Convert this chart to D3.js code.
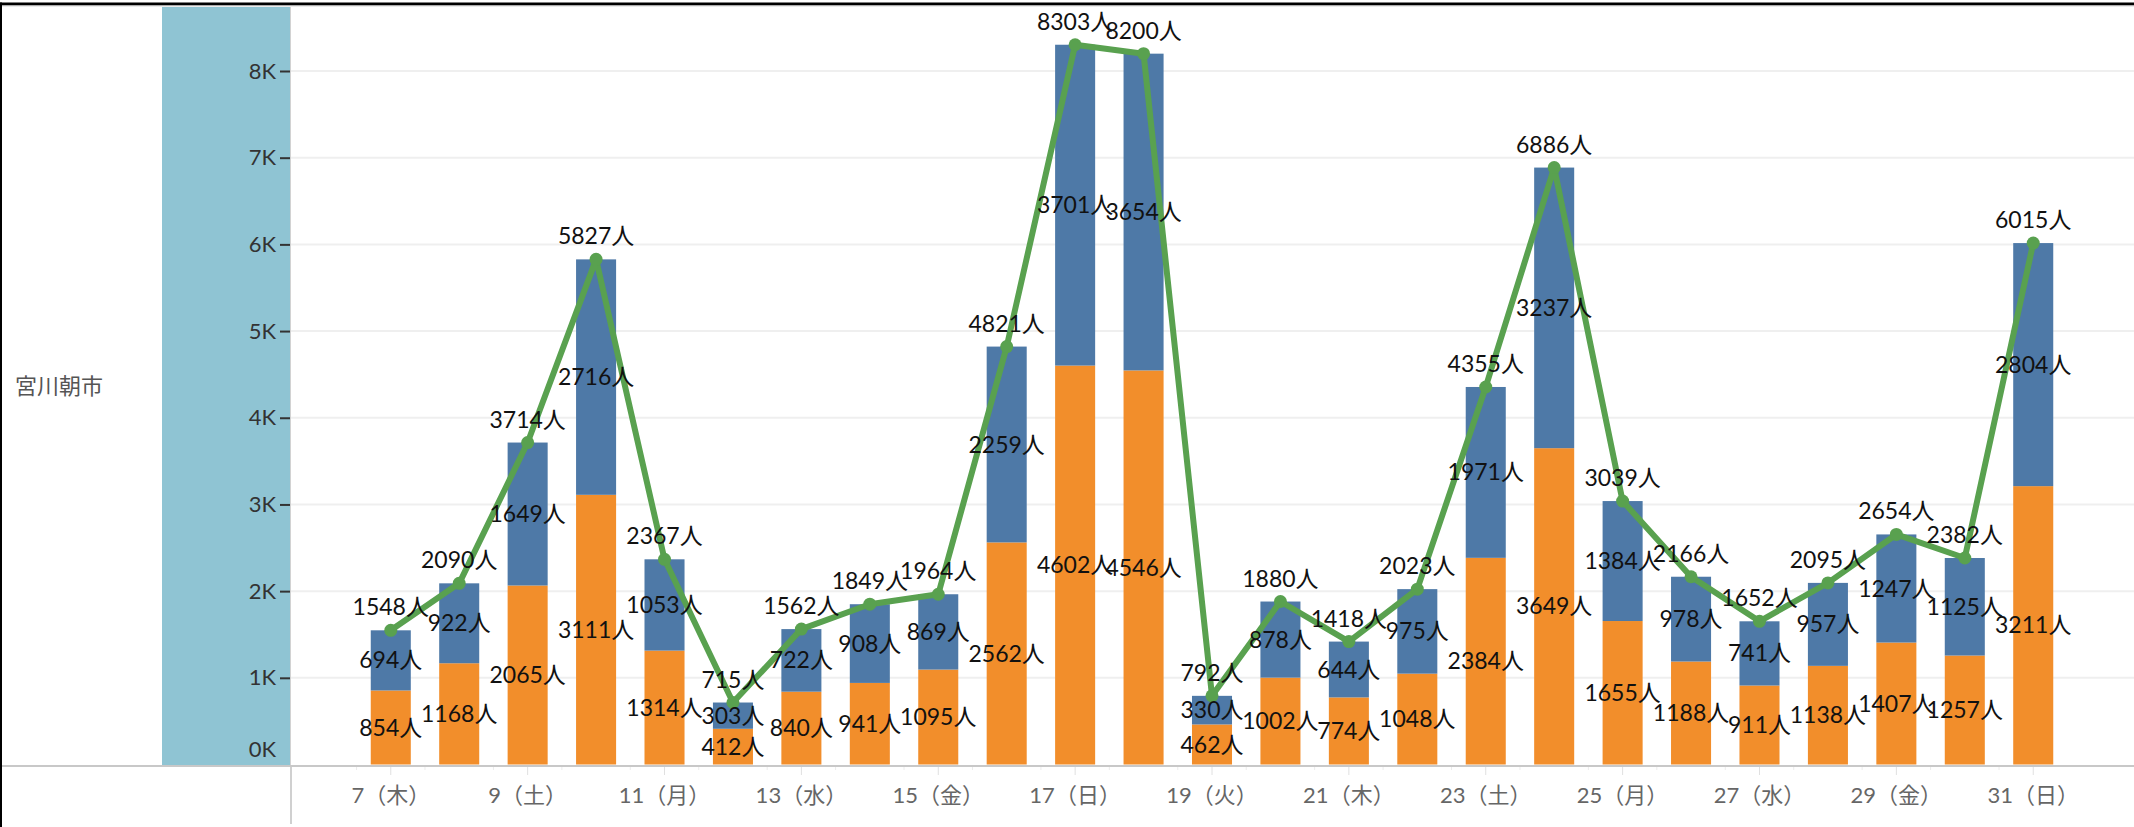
<!DOCTYPE html>
<html lang="ja"><head>
  <meta charset="utf-8">
  <title>宮川朝市</title>
  <script type="text/javascript" src="https://cdn.jsdelivr.net/npm/d3@7"></script>
  <style>
   body { margin: 0; background: white; }
   text { font-family: Lato, "Noto Sans CJK JP", sans-serif; }
  </style>
</head>
<body>
  <script type="text/javascript">
   var days = [7, 8, 9, 10, 11, 12, 13, 14, 15, 16, 17, 18, 19, 20, 21, 22, 23, 24, 25, 26, 27, 28, 29, 30, 31];
   var weekdays = ["木", "金", "土", "日", "月", "火", "水", "木", "金", "土", "日", "月", "火",
                   "水", "木", "金", "土", "日", "月", "火", "水", "木", "金", "土", "日"];
   var orangeVals = [854, 1168, 2065, 3111, 1314, 412, 840, 941, 1095, 2562, 4602, 4546, 462,
                     1002, 774, 1048, 2384, 3649, 1655, 1188, 911, 1138, 1407, 1257, 3211];
   var blueVals = [694, 922, 1649, 2716, 1053, 303, 722, 908, 869, 2259, 3701, 3654, 330,
                   878, 644, 975, 1971, 3237, 1384, 978, 741, 957, 1247, 1125, 2804];
   var totals = [1548, 2090, 3714, 5827, 2367, 715, 1562, 1849, 1964, 4821, 8303, 8200, 792,
                 1880, 1418, 2023, 4355, 6886, 3039, 2166, 1652, 2095, 2654, 2382, 6015];
   var yTicks = [0, 1000, 2000, 3000, 4000, 5000, 6000, 7000, 8000];
   var rowLabel = "宮川朝市";

   var width = 2134;
   var height = 827;
   var paneLeft = 290;
   var paneTop = 7;
   var baseY = 765;

   var orange = "#f28e2b";
   var blue = "#4e79a7";
   var green = "#59a14f";

   var x = d3.scaleBand().domain(days).range([paneLeft, width])
             .paddingInner(0.415).paddingOuter(1.18);
   var y = d3.scaleLinear().domain([0, 8000]).range([764.5, 71]);

   var rows = days.map(function(d, i) {
     return {day: d, wd: weekdays[i], a: orangeVals[i], b: blueVals[i], total: totals[i]};
   });

   var svg = d3.select("body").append("svg")
               .attr("width", width)
               .attr("height", height);

   // row header band
   svg.append("rect")
      .attr("x", 162).attr("y", paneTop)
      .attr("width", paneLeft - 162).attr("height", baseY - paneTop)
      .attr("fill", "#8fc4d3");

   svg.append("text")
      .attr("x", 15).attr("y", (paneTop + baseY) / 2)
      .attr("dy", "0.35em")
      .attr("font-size", 22)
      .attr("fill", "#555")
      .text(rowLabel);

   // gridlines
   svg.append("g")
      .selectAll("line")
      .data(yTicks.slice(1))
      .enter()
      .append("line")
      .attr("x1", paneLeft).attr("x2", width)
      .attr("y1", function(d) { return y(d); })
      .attr("y2", function(d) { return y(d); })
      .attr("stroke", "#efefef")
      .attr("stroke-width", 2);

   svg.append("line")
      .attr("x1", paneLeft + 0.5).attr("x2", paneLeft + 0.5)
      .attr("y1", paneTop).attr("y2", baseY)
      .attr("stroke", "#d2d2d2");

   // stacked bars
   var bars = svg.append("g");
   bars.selectAll(".a")
       .data(rows)
       .enter()
       .append("rect")
       .attr("class", "a")
       .attr("x", function(d) { return x(d.day); })
       .attr("width", x.bandwidth())
       .attr("y", function(d) { return y(d.a); })
       .attr("height", function(d) { return y(0) - y(d.a); })
       .attr("fill", orange);

   bars.selectAll(".b")
       .data(rows)
       .enter()
       .append("rect")
       .attr("class", "b")
       .attr("x", function(d) { return x(d.day); })
       .attr("width", x.bandwidth())
       .attr("y", function(d) { return y(d.a + d.b); })
       .attr("height", function(d) { return y(d.a) - y(d.a + d.b); })
       .attr("fill", blue);

   var cx = function(d) { return x(d.day) + x.bandwidth() / 2; };

   // total line
   var line = d3.line()
                .x(cx)
                .y(function(d) { return y(d.total); });

   svg.append("path")
      .datum(rows)
      .attr("d", line)
      .attr("fill", "none")
      .attr("stroke", green)
      .attr("stroke-width", 6)
      .attr("stroke-linejoin", "round");

   svg.append("g")
      .selectAll("circle")
      .data(rows)
      .enter()
      .append("circle")
      .attr("cx", cx)
      .attr("cy", function(d) { return y(d.total); })
      .attr("r", 6.5)
      .attr("fill", green);

   // mark labels
   var labels = svg.append("g")
                   .attr("font-size", 23)
                   .attr("fill", "#111")
                   .attr("text-anchor", "middle");

   labels.selectAll(".la")
         .data(rows)
         .enter()
         .append("text")
         .attr("x", cx)
         .attr("y", function(d) { return y(d.a / 2); })
         .attr("dy", "0.35em")
         .text(function(d) { return d.a + "人"; });

   labels.selectAll(".lb")
         .data(rows)
         .enter()
         .append("text")
         .attr("x", cx)
         .attr("y", function(d) { return y(d.a + d.b / 2); })
         .attr("dy", "0.35em")
         .text(function(d) { return d.b + "人"; });

   labels.selectAll(".lt")
         .data(rows)
         .enter()
         .append("text")
         .attr("x", cx)
         .attr("y", function(d) { return y(d.total) - 23; })
         .attr("dy", "0.35em")
         .text(function(d) { return d.total + "人"; });

   // value axis
   var yAxis = d3.axisLeft(y)
                 .tickValues(yTicks)
                 .tickSize(10)
                 .tickPadding(4)
                 .tickFormat(function(d) { return (d / 1000) + "K"; });

   var ya = svg.append("g")
               .attr("transform", "translate(" + paneLeft + ",0)")
               .call(yAxis);
   ya.select(".domain").remove();
   ya.selectAll("line")
     .attr("stroke", "#333")
     .attr("stroke-width", 2)
     .attr("opacity", function(d) { return d == 0 ? 0 : 1; });
   ya.selectAll("text")
     .attr("font-family", null)
     .attr("font-size", 22)
     .attr("fill", "#333")
     .attr("y", function(d) { return d == 0 ? -15 : 0; });

   // date axis
   svg.append("g")
      .selectAll("line")
      .data(days)
      .enter()
      .append("line")
      .attr("x1", function(d) { return x(d) - x.step() * x.paddingInner() / 2; })
      .attr("x2", function(d) { return x(d) - x.step() * x.paddingInner() / 2; })
      .attr("y1", 767).attr("y2", 770)
      .attr("stroke", "#ececec");

   var xAxis = d3.axisBottom(x)
                 .tickValues(days.filter(function(d) { return d % 2 == 1; }))
                 .tickSize(8)
                 .tickPadding(12)
                 .tickFormat(function(d, i) { return d + "（" + weekdays[days.indexOf(d)] + "）"; });

   var xa = svg.append("g")
               .attr("transform", "translate(0," + 767 + ")")
               .call(xAxis);
   xa.select(".domain").remove();
   xa.selectAll("line").attr("stroke", "#e0e0e0");
   xa.selectAll("text")
     .attr("font-family", null)
     .attr("font-size", 22)
     .attr("fill", "#666");

   svg.append("line")
      .attr("x1", 0).attr("x2", width)
      .attr("y1", 766).attr("y2", 766)
      .attr("stroke", "#c8c8c8")
      .attr("stroke-width", 2);

   svg.append("line")
      .attr("x1", paneLeft + 1).attr("x2", paneLeft + 1)
      .attr("y1", 767).attr("y2", 824)
      .attr("stroke", "#d0d0d0")
      .attr("stroke-width", 2);

   // frame
   svg.append("rect")
      .attr("x", 0).attr("y", 2.5)
      .attr("width", width).attr("height", 3)
      .attr("fill", "#000");
   svg.append("line")
      .attr("x1", 0).attr("x2", width)
      .attr("y1", 6).attr("y2", 6)
      .attr("stroke", "#d8d8d8");
   svg.append("rect")
      .attr("x", 0).attr("y", 2.5)
      .attr("width", 2).attr("height", height)
      .attr("fill", "#000");
  </script>
</body></html>
